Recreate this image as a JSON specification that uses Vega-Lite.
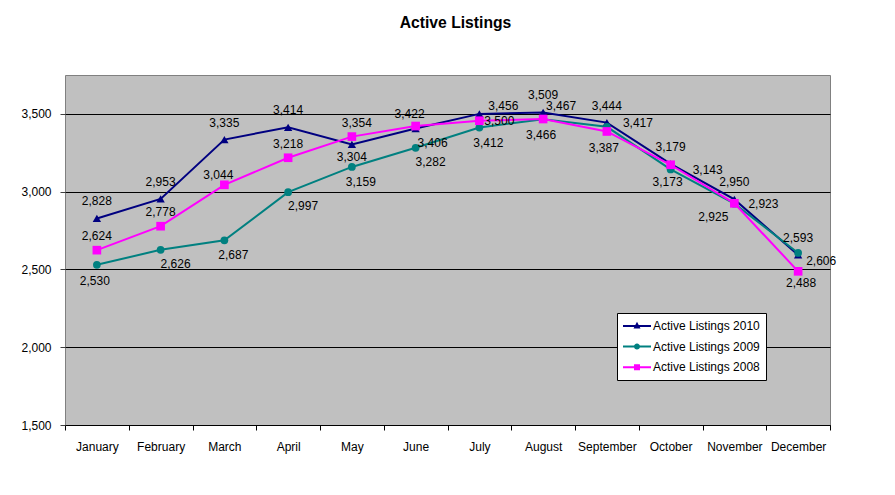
{
  "$schema": "https://vega.github.io/schema/vega-lite/v6.json",
  "width": 765,
  "height": 350,
  "autosize": {"type": "none"},
  "padding": {"left": 65, "top": 75, "right": 65, "bottom": 70},
  "background": "white",
  "title": {"text": "Active Listings", "font": "Liberation Sans", "fontSize": 15.7, "fontWeight": "bold", "color": "black", "anchor": "middle", "offset": 43, "dx": 8},
  "config": {
    "view": {"fill": "#C0C0C0", "stroke": "#808080", "strokeWidth": 1},
    "axis": {"labelFont": "Liberation Sans", "labelFontSize": 12, "labelColor": "black", "title": null},
    "text": {"font": "Liberation Sans", "fontSize": 12, "color": "black", "baseline": "middle"}
  },
  "datasets": {
    "listings": [
      {"month": "January", "series": "Active Listings 2010", "value": 2828},
      {"month": "February", "series": "Active Listings 2010", "value": 2953},
      {"month": "March", "series": "Active Listings 2010", "value": 3335},
      {"month": "April", "series": "Active Listings 2010", "value": 3414},
      {"month": "May", "series": "Active Listings 2010", "value": 3304},
      {"month": "June", "series": "Active Listings 2010", "value": 3406},
      {"month": "July", "series": "Active Listings 2010", "value": 3500},
      {"month": "August", "series": "Active Listings 2010", "value": 3509},
      {"month": "September", "series": "Active Listings 2010", "value": 3444},
      {"month": "October", "series": "Active Listings 2010", "value": 3179},
      {"month": "November", "series": "Active Listings 2010", "value": 2950},
      {"month": "December", "series": "Active Listings 2010", "value": 2593},
      {"month": "January", "series": "Active Listings 2009", "value": 2530},
      {"month": "February", "series": "Active Listings 2009", "value": 2626},
      {"month": "March", "series": "Active Listings 2009", "value": 2687},
      {"month": "April", "series": "Active Listings 2009", "value": 2997},
      {"month": "May", "series": "Active Listings 2009", "value": 3159},
      {"month": "June", "series": "Active Listings 2009", "value": 3282},
      {"month": "July", "series": "Active Listings 2009", "value": 3412},
      {"month": "August", "series": "Active Listings 2009", "value": 3466},
      {"month": "September", "series": "Active Listings 2009", "value": 3417},
      {"month": "October", "series": "Active Listings 2009", "value": 3143},
      {"month": "November", "series": "Active Listings 2009", "value": 2923},
      {"month": "December", "series": "Active Listings 2009", "value": 2606},
      {"month": "January", "series": "Active Listings 2008", "value": 2624},
      {"month": "February", "series": "Active Listings 2008", "value": 2778},
      {"month": "March", "series": "Active Listings 2008", "value": 3044},
      {"month": "April", "series": "Active Listings 2008", "value": 3218},
      {"month": "May", "series": "Active Listings 2008", "value": 3354},
      {"month": "June", "series": "Active Listings 2008", "value": 3422},
      {"month": "July", "series": "Active Listings 2008", "value": 3456},
      {"month": "August", "series": "Active Listings 2008", "value": 3467},
      {"month": "September", "series": "Active Listings 2008", "value": 3387},
      {"month": "October", "series": "Active Listings 2008", "value": 3173},
      {"month": "November", "series": "Active Listings 2008", "value": 2925},
      {"month": "December", "series": "Active Listings 2008", "value": 2488}
    ]
  },
  "data": {"name": "listings"},
  "encoding": {
    "x": {
      "field": "month", "type": "nominal", "sort": null,
      "scale": {"type": "band", "paddingInner": 0, "paddingOuter": 0},
      "axis": {"labelAngle": 0, "tickBand": "extent", "tickSize": 5, "tickColor": "black", "domainColor": "black", "labelPadding": 11, "grid": false}
    },
    "y": {
      "field": "value", "type": "quantitative",
      "scale": {"domain": [1500, 3750], "nice": false, "zero": false},
      "axis": {"values": [1500, 2000, 2500, 3000, 3500], "format": ",d", "grid": true, "gridColor": "black", "gridWidth": 1, "gridOpacity": 1, "domain": false, "tickSize": 5, "tickColor": "#404040", "labelPadding": 9}
    },
    "color": {
      "field": "series", "type": "nominal",
      "scale": {"domain": ["Active Listings 2010", "Active Listings 2009", "Active Listings 2008"], "range": ["#000080", "#008080", "#FF00FF"]}
    }
  },
  "layer": [
    {"mark": {"type": "line", "strokeWidth": 2}},
    {"transform": [{"filter": "datum.series == 'Active Listings 2010'"}], "mark": {"type": "point", "shape": "triangle-up", "filled": true, "opacity": 1, "size": 70}},
    {"transform": [{"filter": "datum.series == 'Active Listings 2009'"}], "mark": {"type": "point", "shape": "circle", "filled": true, "opacity": 1, "size": 60}},
    {"transform": [{"filter": "datum.series == 'Active Listings 2008'"}], "mark": {"type": "point", "shape": "square", "filled": true, "opacity": 1, "size": 75}},
    {
      "mark": {"type": "point", "filled": true, "opacity": 0, "size": 10},
      "encoding": {
        "color": {
          "field": "series", "type": "nominal",
          "legend": {"title": null, "orient": "none", "legendX": 552, "legendY": 238, "fillColor": "white", "strokeColor": "black", "padding": 6, "labelFont": "Liberation Sans", "labelFontSize": 12, "labelColor": "black", "symbolOpacity": 1, "symbolSize": 196, "symbolStrokeWidth": 0, "labelOffset": 16, "rowPadding": 7.6, "labelLimit": 200}
        },
        "shape": {
          "field": "series", "type": "nominal",
          "scale": {"domain": ["Active Listings 2010", "Active Listings 2009", "Active Listings 2008"], "range": [
            "M-1,-0.14H3V0.14H-1Z M1,-0.6L1.5,0.35H0.5Z",
            "M-1,-0.14H3V0.14H-1Z M1.43,0A0.43,0.43,0,1,1,0.57,0A0.43,0.43,0,1,1,1.43,0Z",
            "M-1,-0.14H3V0.14H-1Z M0.57,-0.43H1.43V0.43H0.57Z"
          ]},
          "legend": {"title": null}
        }
      }
    },
    {
      "transform": [{"filter": "datum.series == 'Active Listings 2010' && indexof(['May','June','July'], datum.month) < 0"}],
      "mark": {"type": "text", "dy": -17},
      "encoding": {"text": {"field": "value", "type": "quantitative", "format": ",d"}, "color": {"value": "black"}}
    },
    {
      "transform": [{"filter": "datum.series == 'Active Listings 2010' && datum.month == 'May'"}],
      "mark": {"type": "text", "dy": 13},
      "encoding": {"text": {"field": "value", "type": "quantitative", "format": ",d"}, "color": {"value": "black"}}
    },
    {
      "transform": [{"filter": "datum.series == 'Active Listings 2010' && datum.month == 'June'"}],
      "mark": {"type": "text", "dy": 14, "dx": 17},
      "encoding": {"text": {"field": "value", "type": "quantitative", "format": ",d"}, "color": {"value": "black"}}
    },
    {
      "transform": [{"filter": "datum.series == 'Active Listings 2010' && datum.month == 'July'"}],
      "mark": {"type": "text", "dx": 20, "dy": 7},
      "encoding": {"text": {"field": "value", "type": "quantitative", "format": ",d"}, "color": {"value": "black"}}
    },
    {
      "transform": [{"filter": "datum.series == 'Active Listings 2008' && indexof(['January','February','April'], datum.month) >= 0"}],
      "mark": {"type": "text", "dy": -14},
      "encoding": {"text": {"field": "value", "type": "quantitative", "format": ",d"}, "color": {"value": "black"}}
    },
    {
      "transform": [{"filter": "datum.series == 'Active Listings 2008' && datum.month == 'March'"}],
      "mark": {"type": "text", "dy": -10, "dx": -6},
      "encoding": {"text": {"field": "value", "type": "quantitative", "format": ",d"}, "color": {"value": "black"}}
    },
    {
      "transform": [{"filter": "datum.series == 'Active Listings 2008' && datum.month == 'May'"}],
      "mark": {"type": "text", "dy": -14, "dx": 5},
      "encoding": {"text": {"field": "value", "type": "quantitative", "format": ",d"}, "color": {"value": "black"}}
    },
    {
      "transform": [{"filter": "datum.series == 'Active Listings 2008' && datum.month == 'June'"}],
      "mark": {"type": "text", "dy": -12, "dx": -6},
      "encoding": {"text": {"field": "value", "type": "quantitative", "format": ",d"}, "color": {"value": "black"}}
    },
    {
      "transform": [{"filter": "datum.series == 'Active Listings 2008' && datum.month == 'July'"}],
      "mark": {"type": "text", "dy": -15, "dx": 24},
      "encoding": {"text": {"field": "value", "type": "quantitative", "format": ",d"}, "color": {"value": "black"}}
    },
    {
      "transform": [{"filter": "datum.series == 'Active Listings 2008' && datum.month == 'August'"}],
      "mark": {"type": "text", "dy": -13, "dx": 18},
      "encoding": {"text": {"field": "value", "type": "quantitative", "format": ",d"}, "color": {"value": "black"}}
    },
    {
      "transform": [{"filter": "datum.series == 'Active Listings 2008' && indexof(['September','October'], datum.month) >= 0"}],
      "mark": {"type": "text", "dy": 17, "dx": -3},
      "encoding": {"text": {"field": "value", "type": "quantitative", "format": ",d"}, "color": {"value": "black"}}
    },
    {
      "transform": [{"filter": "datum.series == 'Active Listings 2008' && datum.month == 'December'"}],
      "mark": {"type": "text", "dy": 12, "dx": 3},
      "encoding": {"text": {"field": "value", "type": "quantitative", "format": ",d"}, "color": {"value": "black"}}
    },
    {
      "transform": [{"filter": "datum.series == 'Active Listings 2008' && datum.month == 'November'"}],
      "mark": {"type": "text", "dy": 14, "dx": -21},
      "encoding": {"text": {"field": "value", "type": "quantitative", "format": ",d"}, "color": {"value": "black"}}
    },
    {
      "transform": [{"filter": "datum.series == 'Active Listings 2009' && indexof(['January','August'], datum.month) >= 0"}],
      "mark": {"type": "text", "dy": 16, "dx": -2},
      "encoding": {"text": {"field": "value", "type": "quantitative", "format": ",d"}, "color": {"value": "black"}}
    },
    {
      "transform": [{"filter": "datum.series == 'Active Listings 2009' && indexof(['February','April','June'], datum.month) >= 0"}],
      "mark": {"type": "text", "dy": 14, "dx": 15},
      "encoding": {"text": {"field": "value", "type": "quantitative", "format": ",d"}, "color": {"value": "black"}}
    },
    {
      "transform": [{"filter": "datum.series == 'Active Listings 2009' && indexof(['March','May','July'], datum.month) >= 0"}],
      "mark": {"type": "text", "dy": 15, "dx": 9},
      "encoding": {"text": {"field": "value", "type": "quantitative", "format": ",d"}, "color": {"value": "black"}}
    },
    {
      "transform": [{"filter": "datum.series == 'Active Listings 2009' && datum.month == 'September'"}],
      "mark": {"type": "text", "align": "left", "dx": 16, "dy": -4},
      "encoding": {"text": {"field": "value", "type": "quantitative", "format": ",d"}, "color": {"value": "black"}}
    },
    {
      "transform": [{"filter": "datum.series == 'Active Listings 2009' && datum.month == 'October'"}],
      "mark": {"type": "text", "align": "left", "dx": 22, "dy": 1},
      "encoding": {"text": {"field": "value", "type": "quantitative", "format": ",d"}, "color": {"value": "black"}}
    },
    {
      "transform": [{"filter": "datum.series == 'Active Listings 2009' && datum.month == 'November'"}],
      "mark": {"type": "text", "align": "left", "dx": 14, "dy": 0},
      "encoding": {"text": {"field": "value", "type": "quantitative", "format": ",d"}, "color": {"value": "black"}}
    },
    {
      "transform": [{"filter": "datum.series == 'Active Listings 2009' && datum.month == 'December'"}],
      "mark": {"type": "text", "align": "left", "dx": 8, "dy": 8},
      "encoding": {"text": {"field": "value", "type": "quantitative", "format": ",d"}, "color": {"value": "black"}}
    }
  ]
}
